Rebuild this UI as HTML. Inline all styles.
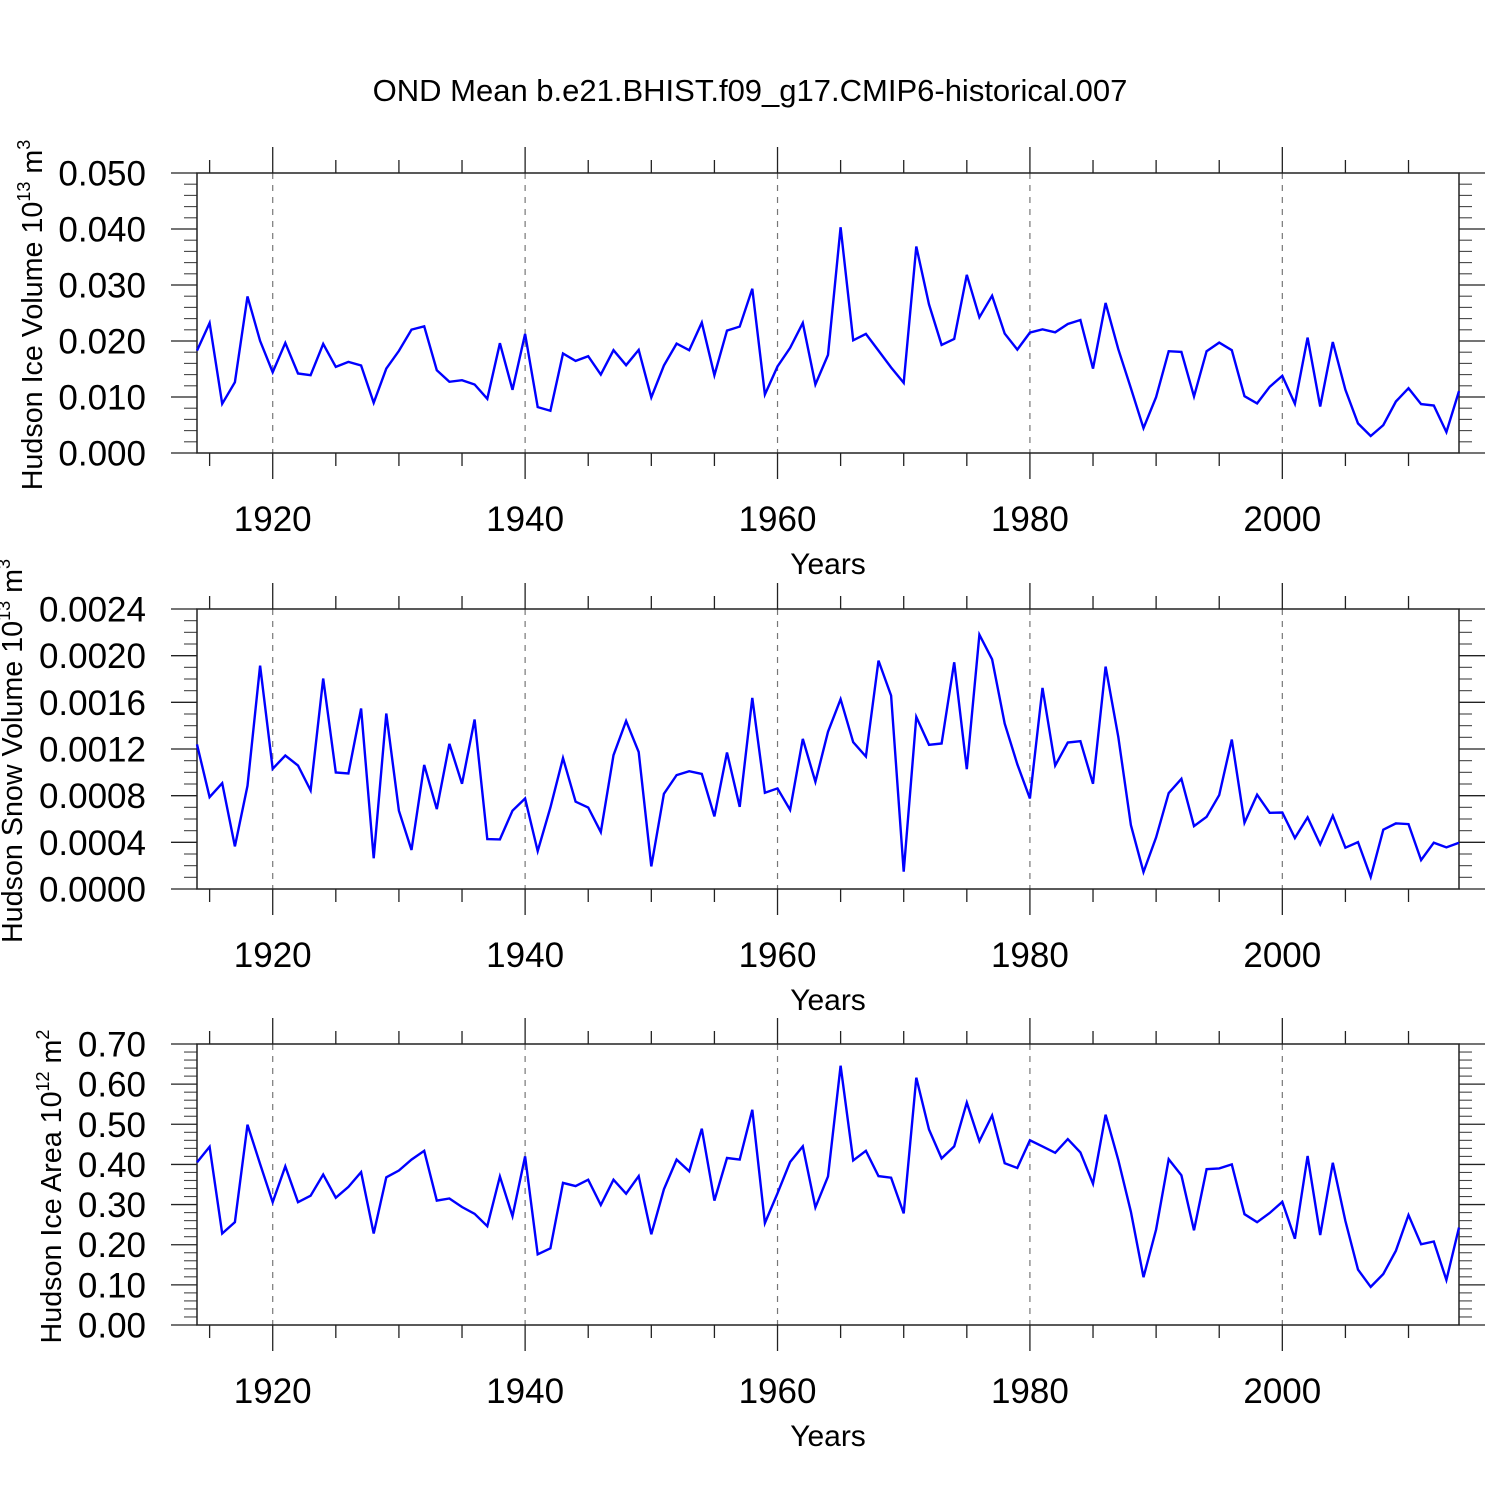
<!DOCTYPE html>
<html><head><meta charset="utf-8"><style>
html,body{margin:0;padding:0;background:#fff;}
svg{display:block;font-family:"Liberation Sans",sans-serif;}
</style></head><body>
<svg id="chart" width="1500" height="1500" viewBox="0 0 1500 1500" xmlns="http://www.w3.org/2000/svg">
<rect width="1500" height="1500" fill="#fff"/>
<text x="750" y="101" font-size="31" text-anchor="middle">OND Mean b.e21.BHIST.f09_g17.CMIP6-historical.007</text>
<g id="plots"></g>
</svg>
<script>
const years = [];
for (let y = 1914; y <= 2014; y++) years.push(y);
const iceVolume = [.01829,.02322,.00879,.01265,.02797,.02001,.01443,.01966,.01419,.0139,.01948,.01538,.01627,.01562,.00897,.01508,.01823,.02203,.02262,.01479,.01271,.013,.01223,.00968,.0196,.01128,.02126,.0082,.00754,.01776,.01645,.01728,.01401,.01835,.01568,.01841,.00992,.01562,.01954,.01835,.02328,.0139,.02185,.02257,.02933,.01045,.01544,.01876,.02322,.01223,.01752,.04032,.02013,.02126,.01829,.01526,.01253,.03688,.02654,.0193,.02037,.03183,.02423,.02809,.02132,.01847,.0215,.02209,.02156,.02304,.02375,.01508,.02678,.01853,.01158,.00445,.00998,.01817,.01805,.0101,.01817,.01971,.01835,.01015,.00885,.01182,.01378,.00879,.0206,.00831,.01983,.01128,.00528,.00303,.00499,.0092,.01158,.00873,.00849,.00374,.01105];
const snowVolume = [.001239,.000788,.000907,.000365,.000885,.001915,.00103,.001144,.001059,.000845,.001804,.000999,.00099,.001547,.000263,.001504,.000671,.000334,.001064,.000685,.001244,.000902,.001453,.000428,.000425,.000671,.000776,.000325,.000699,.001122,.000748,.000699,.000488,.001147,.001441,.001173,.000194,.000816,.000976,.00101,.000987,.000622,.00117,.000705,.001638,.000825,.000862,.000679,.001287,.000919,.001347,.001627,.001258,.001136,.001958,.001658,.000148,.001475,.001236,.001247,.001943,.001027,.00218,.001969,.001418,.00107,.000776,.001724,.001059,.001256,.001267,.000902,.001906,.001304,.000548,.000146,.000442,.000822,.000945,.000539,.000619,.000805,.001281,.000568,.000808,.000653,.000656,.000437,.000614,.000382,.000628,.000354,.000402,.000103,.000508,.000562,.000556,.000248,.000397,.000357,.000397];
const iceArea = [.405,.444,.228,.256,.499,.401,.306,.395,.306,.322,.375,.317,.344,.381,.228,.368,.385,.412,.434,.310,.315,.294,.277,.246,.370,.271,.420,.176,.191,.354,.346,.362,.299,.362,.327,.371,.226,.338,.412,.383,.489,.310,.416,.412,.536,.254,.328,.406,.445,.293,.370,.646,.410,.434,.371,.367,.278,.616,.487,.415,.445,.554,.458,.522,.403,.391,.460,.445,.429,.463,.430,.352,.524,.411,.282,.119,.238,.413,.373,.236,.388,.390,.400,.276,.256,.279,.307,.215,.421,.224,.404,.259,.138,.095,.127,.185,.274,.201,.208,.112,.243];
const xTickLabels = ["1920","1940","1960","1980","2000"];
const ticks1 = ["0.000","0.010","0.020","0.030","0.040","0.050"];
const ticks2 = ["0.0000","0.0004","0.0008","0.0012","0.0016","0.0020","0.0024"];
const ticks3 = ["0.00","0.10","0.20","0.30","0.40","0.50","0.60","0.70"];

const NS = "http://www.w3.org/2000/svg";
const root = document.getElementById('plots');
const L = 197, R = 1459, X0 = 1914, X1 = 2014;
function xs(y){ return L + (y - X0) * (R - L) / (X1 - X0); }
function mk(tag, attrs, parent){ const e = document.createElementNS(NS, tag); for (const k in attrs) e.setAttribute(k, attrs[k]); (parent||root).appendChild(e); return e; }

function panel(name, top, bot, ymax, labels, minorPer, data, titleX, titleMain, sup1, sup2){
  const g = mk('g', {});
  
  
  const ys = v => bot - v / ymax * (bot - top);
  xTickLabels.forEach(t => {
    const x = xs(+t);
    const gl = mk('line', {x1:x, x2:x, y1:top, y2:bot, stroke:'#777', 'stroke-width':1.2, 'stroke-dasharray':'6,6'}, g);
    
    
  });
  for (let y = 1915; y <= 2014; y += 5) {
    const x = xs(y), major = y % 20 === 0;
    const len = major ? 26 : 13;
    mk('line', {x1:x, x2:x, y1:top - len, y2:top, stroke:'#222', 'stroke-width':1.3}, g);
    mk('line', {x1:x, x2:x, y1:bot, y2:bot + len, stroke:'#222', 'stroke-width':1.3}, g);
  }
  const nMaj = labels.length - 1;
  const step = (bot - top) / nMaj;
  for (let i = 0; i <= nMaj; i++) {
    const y = bot - i * step;
    mk('line', {x1:L - 26, x2:L, y1:y, y2:y, stroke:'#222', 'stroke-width':1.3}, g);
    mk('line', {x1:R, x2:R + 26, y1:y, y2:y, stroke:'#222', 'stroke-width':1.3}, g);
    const t = mk('text', {x:146, y:y + 12.5, 'font-size':35, 'text-anchor':'end'}, g);
    
    
    t.textContent = labels[i];
    if (i < nMaj) for (let m = 1; m <= minorPer; m++) {
      const ym = y - m * step / (minorPer + 1);
      mk('line', {x1:L - 13, x2:L, y1:ym, y2:ym, stroke:'#444', 'stroke-width':1.1}, g);
      mk('line', {x1:R, x2:R + 13, y1:ym, y2:ym, stroke:'#444', 'stroke-width':1.1}, g);
    }
  }
  const fr = mk('rect', {x:L, y:top, width:R - L, height:bot - top, fill:'none', stroke:'#222', 'stroke-width':1.5}, g);
  
  
  xTickLabels.forEach(t => {
    const tx = mk('text', {x:xs(+t), y:bot + 78, 'font-size':35, 'text-anchor':'middle'}, g);
    
    
    tx.textContent = t;
  });
  const xt = mk('text', {x:828, y:bot + 121, 'font-size':30, 'text-anchor':'middle'}, g);
  
  
  xt.textContent = 'Years';
  const cy = (top + bot) / 2 + 2;
  const yt = mk('text', {x:0, y:0, 'font-size':28.7, 'text-anchor':'middle', transform:`translate(${titleX},${cy}) rotate(-90)`}, g);
  
  
  const t1 = document.createElementNS(NS, 'tspan'); t1.textContent = titleMain; yt.appendChild(t1);
  const t2 = document.createElementNS(NS, 'tspan'); t2.setAttribute('dy', '-12'); t2.setAttribute('font-size', '18'); t2.textContent = sup1; yt.appendChild(t2);
  const t3 = document.createElementNS(NS, 'tspan'); t3.setAttribute('dy', '12'); t3.textContent = ' m'; yt.appendChild(t3);
  const t4 = document.createElementNS(NS, 'tspan'); t4.setAttribute('dy', '-12'); t4.setAttribute('font-size', '18'); t4.textContent = sup2; yt.appendChild(t4);
  const pts = data.map((v, i) => xs(years[i]).toFixed(1) + ',' + ys(v).toFixed(1)).join(' ');
  const pl = mk('polyline', {points:pts, fill:'none', stroke:'#0000ff', 'stroke-width':2.4, 'stroke-linejoin':'miter'}, g);
  
  
}
panel('ice-volume', 173, 453, 0.05, ticks1, 4, iceVolume, 42, 'Hudson Ice Volume 10', '13', '3');
panel('snow-volume', 609, 889, 0.0024, ticks2, 3, snowVolume, 22, 'Hudson Snow Volume 10', '13', '3');
panel('ice-area', 1044, 1325, 0.7, ticks3, 4, iceArea, 61, 'Hudson Ice Area 10', '12', '2');
</script>
</body></html>
